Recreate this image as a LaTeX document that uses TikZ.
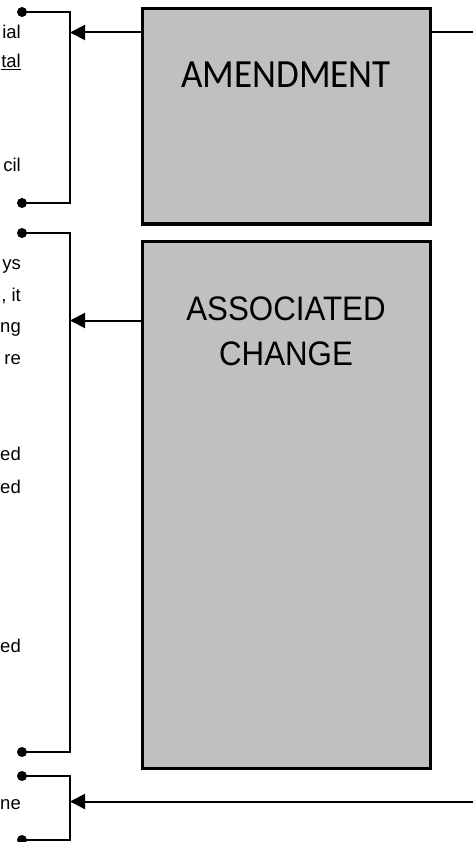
\documentclass[tikz,border=0pt]{standalone}
\usepackage{fontspec}
\usepackage{graphicx}
\setmainfont{Liberation Sans}
\newfontfamily\boxfontA{Carlito}
\usetikzlibrary{arrows.meta}
\definecolor{boxgrey}{HTML}{C0C0C0}
\tikzset{
  bigbox/.style={draw=black, fill=boxgrey, line width=3pt, minimum width=288pt, inner sep=0pt, outer sep=0pt},
  conn/.style={draw=black, line width=2pt},
  arrconn/.style={draw=black, line width=2pt, -{Triangle[length=15pt,width=15pt]}},
  brk/.style={draw=black, line width=2pt},
  dotmark/.style={fill=black},
  sidetxt/.style={anchor=base east, inner sep=0pt, font=\fontsize{18.5}{21}\selectfont},
  boxtxt/.style={anchor=base, inner sep=0pt}
}
\begin{document}
\begin{tikzpicture}[x=1pt,y=-1pt]
\useasboundingbox (0,0) rectangle (473,842);
% boxes
\node[bigbox, minimum height=215pt] (amend) at (286,116.5) {};
\node[bigbox, minimum height=527pt] (assoc) at (286,504.5) {};
\node[boxtxt, font=\boxfontA\fontsize{37}{40}\selectfont] (amendtxt) at (286,88) {\scalebox{1}[1.08]{AMENDMENT}};
\node[boxtxt, font=\fontsize{34}{40}\selectfont] (assoctxt1) at (286,320) {\scalebox{0.92}[1]{ASSOCIATED}};
\node[boxtxt, font=\fontsize{34}{40}\selectfont] (assoctxt2) at (286,365) {\scalebox{0.92}[1]{CHANGE}};
% bracket coordinates
\coordinate (b1t) at (22,12);   \coordinate (b1tc) at (70,12);
\coordinate (b1bc) at (70,203); \coordinate (b1b) at (22,203);
\coordinate (b2t) at (22,233);  \coordinate (b2tc) at (70,233);
\coordinate (b2bc) at (70,752); \coordinate (b2b) at (22,752);
\coordinate (b3t) at (22,776);  \coordinate (b3tc) at (70,776);
\coordinate (b3bc) at (70,840); \coordinate (b3b) at (22,840);
\draw[brk] (b1t) -- (b1tc) -- (b1bc) -- (b1b);
\draw[brk] (b2t) -- (b2tc) -- (b2bc) -- (b2b);
\draw[brk] (b3t) -- (b3tc) -- (b3bc) -- (b3b);
\foreach \p in {b1t,b1b,b2t,b2b,b3t,b3b} \fill[dotmark] (\p) circle (5);
% arrows
\coordinate (a1) at (70,32.5);
\coordinate (a2) at (70,320.5);
\coordinate (a3) at (70,801.5);
\coordinate (r1) at (473,32.5);
\coordinate (r3) at (473,801.5);
\draw[arrconn] (amend.west |- a1) -- (a1);
\draw[conn] (amend.east |- r1) -- (r1);
\draw[arrconn] (assoc.west |- a2) -- (a2);
\draw[arrconn] (r3) -- (a3);
% side text fragments
\node[sidetxt] (t1) at (21,39) {ial};
\node[sidetxt] (t2) at (21,68) {\underline{tal}};
\node[sidetxt] (t3) at (21,172) {cil};
\node[sidetxt] (t4) at (21,269) {ys};
\node[sidetxt] (t5) at (21,301) {, it};
\node[sidetxt] (t6) at (21,332) {ng};
\node[sidetxt] (t7) at (21,364) {re};
\node[sidetxt] (t8) at (21,460) {ed};
\node[sidetxt] (t9) at (21,493) {ed};
\node[sidetxt] (t10) at (21,652) {ed};
\node[sidetxt] (t11) at (21,809) {ne};
\end{tikzpicture}
\end{document}
